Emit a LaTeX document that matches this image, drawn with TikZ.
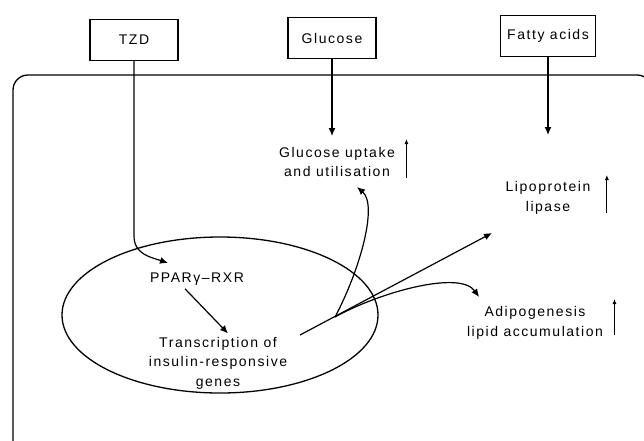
\documentclass[tikz,border=0pt]{standalone}
\usepackage{fontspec}
\setmainfont{Liberation Sans}[LetterSpace=11]
\usetikzlibrary{calc,arrows.meta}

\begin{document}
\begin{tikzpicture}[x=1pt,y=-1pt,
  box/.style={draw,line width=1.2pt,minimum width=88pt,minimum height=41pt,inner sep=7pt},
  lbl/.style={align=center,font=\fontsize{14}{19.5}\selectfont},
  arr/.style={-{Latex[length=8pt,width=7pt]},line width=1.2pt},
  uparr/.style={-{Latex[length=5pt,width=4pt]},line width=0.9pt}]
  \useasboundingbox (0,0) rectangle (644,440);
  \clip (0,0) rectangle (644,440);
  \draw[line width=1.3pt,rounded corners=15pt] (13,480) rectangle (652,75);
  \draw[line width=1.3pt] (220,315) ellipse (158 and 78);
  \node[box,lbl] (tzd) at (134,40) {TZD};
  \node[box,lbl] (glc) at (332,38) {Glucose};
  \node[box,lbl] (fa) at (548,36) {Fatty acids};
  \node[lbl] (ppar) at (197,279) {PPARγ–RXR};
  \node[lbl] (trans) at (218,363) {Transcription of\\insulin-responsive\\genes};
  \node[lbl] (gup) at (337,162) {Glucose uptake\\and utilisation};
  \node[lbl] (lpl) at (548,198) {Lipoprotein\\lipase};
  \node[lbl] (adip) at (535,323) {Adipogenesis\\lipid accumulation};
  \coordinate (tzdend) at (168,263);
  \coordinate (gend) at (332,136);
  \coordinate (faend) at (548,135);
  \coordinate (start) at (300,335);
  \coordinate (fork) at (335,317);
  \coordinate (gupend) at (357,187);
  \coordinate (lplend) at (492,233);
  \coordinate (adipend) at (479,297);
  \draw[arr] (tzd.south) -- (134,236) .. controls (134,254) and (150,257) .. (tzdend);
  \draw[arr] (glc.south) -- (gend);
  \draw[arr] (fa.south) -- (faend);
  \draw[arr] ([xshift=-12pt]ppar.south) -- ([xshift=10pt]trans.north);
  \draw[arr] (start) -- (lplend);
  \draw[arr] (fork) .. controls (360,270) and (378,205) .. (gupend);
  \draw[arr] (fork) .. controls (380,292) and (460,270) .. (adipend);
  \draw[uparr] ($(gup.east)+(8,16)$) -- ++(0,-39);
  \draw[uparr] ($(lpl.east)+(13,15)$) -- ++(0,-38);
  \draw[uparr] ($(adip.east)+(8,12)$) -- ++(0,-36);
\end{tikzpicture}
\end{document}
